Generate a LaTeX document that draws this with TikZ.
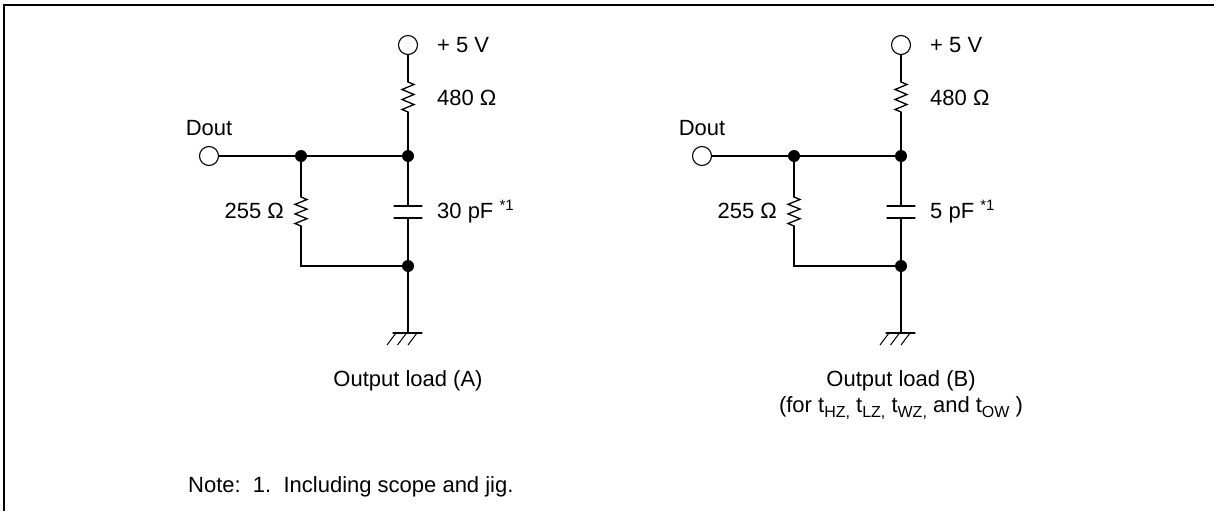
\documentclass[tikz,border=0pt]{standalone}
\usepackage{fontspec}
\setmainfont{Liberation Sans}
\newcommand{\mysub}[1]{\raisebox{-0.45ex}{\fontsize{16}{16}\selectfont #1}}
\newcommand{\mysup}[1]{\raisebox{0.7ex}{\fontsize{15}{15}\selectfont #1}}
\begin{document}
\begin{tikzpicture}[x=1pt,y=-1pt,
  wire/.style={line width=1.3pt, line cap=round},
  term/.style={circle, draw, fill=white, minimum size=19pt, inner sep=0pt, line width=1.1pt},
  junc/.style={circle, fill=black, minimum size=12pt, inner sep=0pt},
  lbl/.style={font=\fontsize{22}{26}\selectfont, inner sep=0pt}]
\useasboundingbox (0,0) rectangle (1214,511);
\draw[line width=1.5pt] (4,511) -- (4,5) -- (1214,5);

\foreach \p/\dx/\cval in {A/0/30,B/493/5}{
\begin{scope}[xshift=\dx pt]
  \node[term] (\p-vcc) at (408,45) {};
  \node[term] (\p-dout) at (209,156) {};
  \node[junc] (\p-j1) at (408,156) {};
  \node[junc] (\p-j2) at (301,156) {};
  \node[junc] (\p-j3) at (408,266) {};
  \coordinate (\p-r1t) at (408,82);
  \coordinate (\p-r1b) at (408,112);
  \coordinate (\p-r2t) at (301,197);
  \coordinate (\p-r2b) at (301,226);
  \coordinate (\p-c1) at (408,206);
  \coordinate (\p-c2) at (408,218);
  \coordinate (\p-gnd) at (408,333);
  % wires
  \draw[wire] (\p-vcc) -- (\p-r1t);
  \draw[wire] (\p-r1t) -- ++(6,2.5) -- ++(-12,5) -- ++(12,5) -- ++(-12,5) -- ++(12,5) -- ++(-12,5) -- (\p-r1b);
  \draw[wire] (\p-r1b) -- (\p-j1);
  \draw[wire] (\p-dout) -- (\p-j2) -- (\p-j1);
  \draw[wire] (\p-j2) -- (\p-r2t);
  \draw[wire] (\p-r2t) -- ++(6,2.5) -- ++(-12,4.8) -- ++(12,4.8) -- ++(-12,4.8) -- ++(12,4.8) -- ++(-12,4.8) -- (\p-r2b);
  \draw[wire] (\p-r2b) |- (\p-j3);
  \draw[wire] (\p-j1) -- (\p-c1);
  \draw[wire] ([xshift=-14pt]\p-c1) -- ([xshift=14pt]\p-c1);
  \draw[wire] ([xshift=-14pt]\p-c2) -- ([xshift=14pt]\p-c2);
  \draw[wire] (\p-c2) -- (\p-j3);
  \draw[wire] (\p-j3) -- (\p-gnd);
  \draw[wire] ([xshift=-15pt]\p-gnd) -- ([xshift=14pt]\p-gnd);
  \foreach \h in {-12,-1.5,9}{
    \draw[line width=1pt] ([xshift=\h pt]\p-gnd) -- ++(-9,12);
  }
  % labels
  \node[lbl, anchor=west] (\p-l5v) at (437,45) {+ 5 V};
  \node[lbl, anchor=west] (\p-l480) at (437,98) {480 Ω};
  \node[lbl, anchor=west] (\p-lcap) at (437,212) {\cval\ pF \mysup{*1}};
  \node[lbl, anchor=east] (\p-l255) at (284,211) {255 Ω};
  \node[lbl] (\p-ldout) at (209,128) {Dout};
\end{scope}
}
\node[lbl] (ta) at (408,381) {Output load (A)};
\node[lbl] (tb) at (901,381) {Output load (B)};
\node[lbl] (tb2) at (901,408) {(for t\mysub{HZ,} t\mysub{LZ,} t\mysub{WZ,} and t\mysub{OW} )};
\node[lbl, anchor=west] (note) at (188,487) {Note:\ \ 1.\ \ Including scope and jig.};
\end{tikzpicture}
\end{document}
